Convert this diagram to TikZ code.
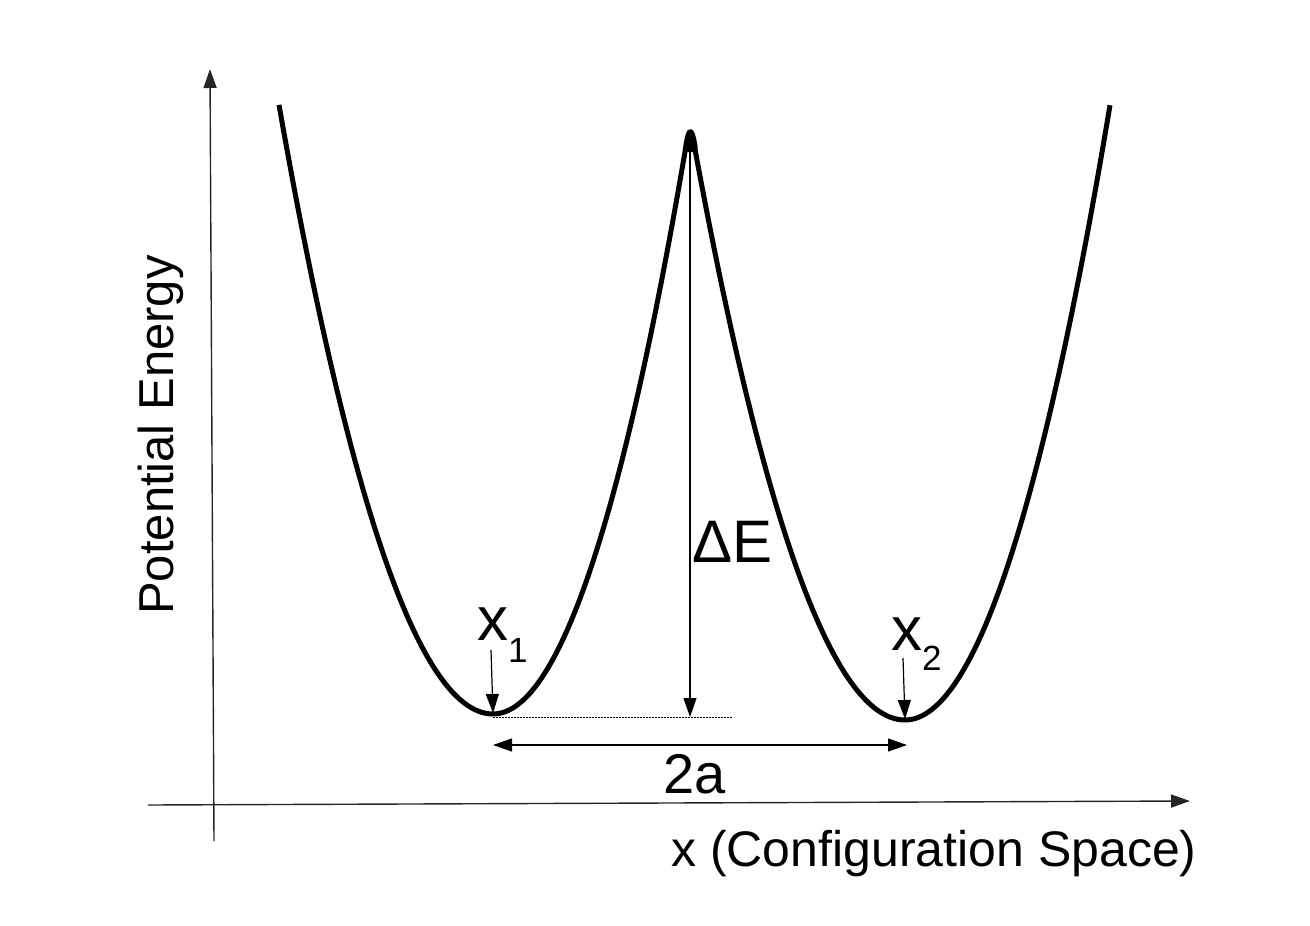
\documentclass[tikz,border=0pt]{standalone}
\usepackage{fontspec}
\setmainfont{Liberation Sans}
\usetikzlibrary{arrows.meta}
\begin{document}
\begin{tikzpicture}[x=1pt,y=-1pt,
  tip/.style={-{Triangle[length=19pt,width=13pt]}},
  dtip/.style={{Triangle[length=19pt,width=13pt]}-{Triangle[length=19pt,width=13pt]}},
  axisline/.style={line width=1.4pt, black!85, tip},
  thinarrow/.style={line width=1.2pt, black},
  wellcurve/.style={line width=5pt, line join=round, black},
  dotline/.style={line width=0.9pt, dash pattern=on 1.5pt off 1.5pt},
  lbl/.style={inner sep=0pt, outer sep=0pt}]
\useasboundingbox (0,0) rectangle (1310,926);

% coordinates
\coordinate (yaxB) at (214,841);
\coordinate (yaxT) at (210,69);
\coordinate (xaxL) at (148,805);
\coordinate (xaxR) at (1190,801);
\coordinate (min1) at (493,717);
\coordinate (dotE) at (733,717);
\coordinate (peak) at (690,133);
\coordinate (dEbot) at (690,717);
\coordinate (a1s) at (491,650);
\coordinate (a1e) at (493,713);
\coordinate (a2s) at (903,658);
\coordinate (a2e) at (905,719);
\coordinate (tw1) at (493,745);
\coordinate (tw2) at (907,745);

% axes
\draw[axisline] (yaxB) -- (yaxT);
\draw[axisline] (xaxL) -- (xaxR);

% double well
\draw[wellcurve]
  plot[domain=279:493, samples=60] (\x, {714-1.33*((\x-493)/10)^2})
  -- plot[domain=493:685, samples=60] (\x, {714-1.525*((\x-493)/10)^2})
  .. controls (688.5,126) and (691.5,125.5) .. (695,146)
  -- plot[domain=695:905, samples=60] (\x, {720-1.294*((\x-905)/10)^2})
  -- plot[domain=905:1110, samples=60] (\x, {720-1.463*((\x-905)/10)^2});

% dotted reference line
\draw[dotline] (min1) -- (dotE);

% Delta E arrow
\draw[thinarrow, dtip] (peak) -- (dEbot);

% minima arrows
\draw[thinarrow, tip] (a1s) -- (a1e);
\draw[thinarrow, tip] (a2s) -- (a2e);

% 2a arrow
\draw[thinarrow, dtip] (tw1) -- (tw2);

% labels
\node[lbl, anchor=base west, font=\fontsize{62}{62}\selectfont] (x1) at (477,640)
  {x\raisebox{-22pt}{\fontsize{35}{35}\selectfont 1}};
\node[lbl, anchor=base west, font=\fontsize{62}{62}\selectfont] (x2) at (891,650)
  {x\raisebox{-20pt}{\fontsize{35}{35}\selectfont 2}};
\node[lbl, anchor=base west, font=\fontsize{60}{60}\selectfont] (dE) at (692,562) {ΔE};
\node[lbl, anchor=base, font=\fontsize{56}{56}\selectfont] (twoa) at (695,793) {2a};
\node[lbl, anchor=base, font=\fontsize{50}{50}\selectfont] (xlab) at (934,866) {x (Configuration Space)};
\node[lbl, anchor=base, rotate=90, font=\fontsize{49}{49}\selectfont] (ylab) at (173,435) {Potential Energy};
\end{tikzpicture}
\end{document}
